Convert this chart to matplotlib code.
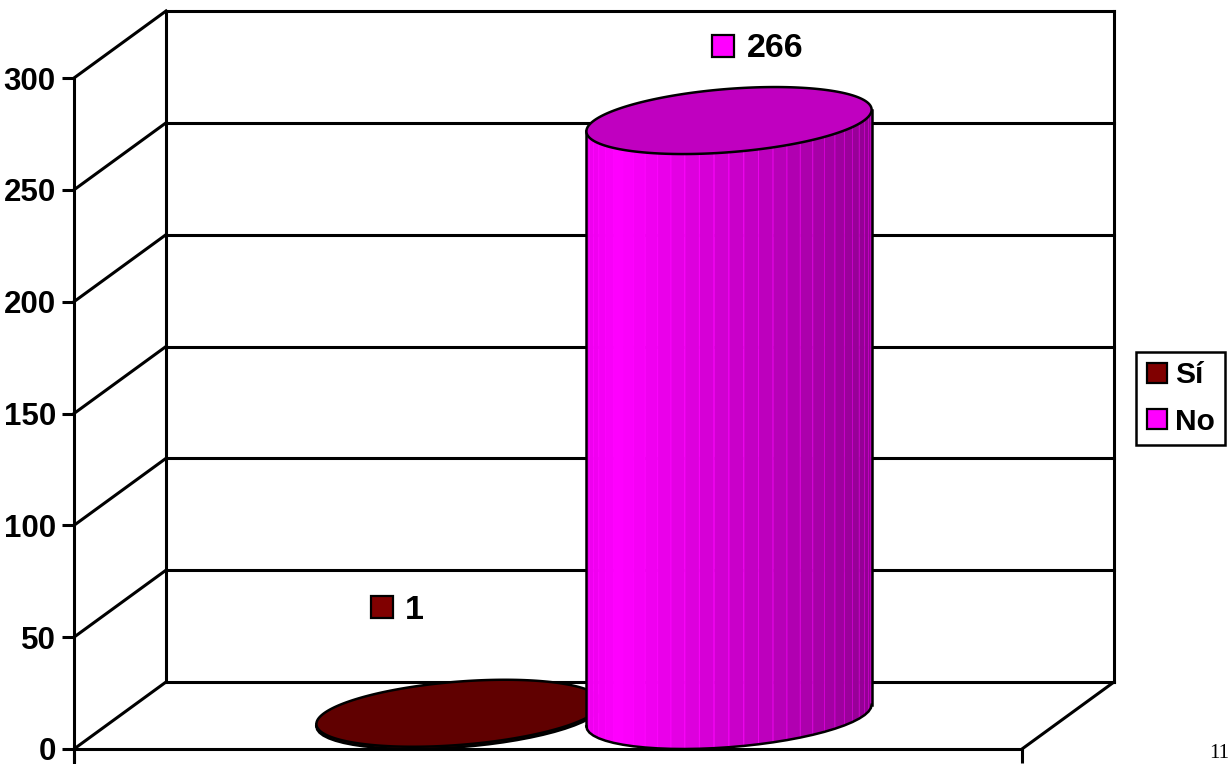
import numpy as np
import matplotlib
matplotlib.use("Agg")
import matplotlib.pyplot as plt
from matplotlib.patches import Polygon
from matplotlib.lines import Line2D
from matplotlib.transforms import ScaledTranslation

# ---- data ----
series = ["Sí", "No"]
values = [1, 266]
yticks = [0, 50, 100, 150, 200, 250, 300]
top_colors = ["#600000", "#C000C0"]
side_colors = [(0.5, 0.0, 0.0), (1.0, 0.0, 1.0)]
key_colors = ["#800000", "#FF00FF"]

# ---- layout (pixels) ----
W, H = 1231, 764
PX_X0, PX_Y0 = 74, 749          # front-left corner of the floor
PX_CAT = 948                    # width of the single category
PX_PER_VAL = 671 / 300          # vertical scale
DEPTH_PX = (92, 67)             # oblique depth offset

plt.rcParams["font.family"] = ["Liberation Sans", "DejaVu Sans"]
fig = plt.figure(figsize=(W / 100, H / 100), dpi=100)

ax_right_px = 1131
ax = fig.add_axes([PX_X0 / W, 0, (ax_right_px - PX_X0) / W, 1])
ax.set_xlim(0, (ax_right_px - PX_X0) / PX_CAT)
ax.set_ylim(-(H - PX_Y0) / PX_PER_VAL, PX_Y0 / PX_PER_VAL)
ax.patch.set_alpha(0)

DX = DEPTH_PX[0] / PX_CAT
DV = DEPTH_PX[1] / PX_PER_VAL
LW = 2.2
ymin = ax.get_ylim()[0]

# axes lines
for s in ("top", "right"):
    ax.spines[s].set_visible(False)
ax.spines["left"].set_linewidth(LW)
ax.spines["left"].set_bounds(ymin, yticks[-1])
ax.spines["bottom"].set_linewidth(LW)
ax.spines["bottom"].set_position(("data", 0))
ax.spines["bottom"].set_bounds(0, 1)
ax.set_xticks([0, 1])
ax.set_xticklabels([])
ax.tick_params(axis="x", direction="out", length=10, width=LW)
ax.set_yticks(yticks)
ax.set_yticklabels([str(t) for t in yticks], fontsize=22.5, fontweight="bold")
ax.tick_params(axis="y", direction="out", length=8.6, width=LW, pad=4.5)

# back wall, side wall and floor
kw = dict(color="black", lw=LW, solid_capstyle="projecting", zorder=1, clip_on=False)
ax.plot([DX, DX], [DV, yticks[-1] + DV], **kw)
ax.plot([1 + DX, 1 + DX], [DV, yticks[-1] + DV], **kw)
for t in yticks:
    ax.plot([DX, 1 + DX], [t + DV, t + DV], **kw)
    ax.plot([0, DX], [t, t + DV], **kw)
ax.plot([1, 1 + DX], [0, DV], **kw)

# ---- cylinders ----
BAR_W = 270 / PX_CAT
centers = [0.5 - BAR_W / 2, 0.5 + BAR_W / 2]
a = BAR_W / 2
th0 = np.arctan2(0.5 * DX, a)


def pt(xc, th, val):
    z = 0.5 + 0.5 * np.sin(th)
    return xc + a * np.cos(th) + z * DX, val + z * DV


def shade(t):
    # brightness across the visible side, t = 0 at the left edge, 1 at the right
    return np.interp(t, [0.0, 0.12, 0.5, 1.0], [0.92, 1.0, 0.80, 0.57])


for i, (xc, v) in enumerate(zip(centers, values)):
    zb = 3 + i * 2
    n = 30
    ths = np.linspace(th0 + np.pi, th0 + 2 * np.pi, n + 1)
    xl, _ = pt(xc, ths[0], 0)
    xr, _ = pt(xc, ths[-1], 0)
    base = np.array(side_colors[i])
    for k in range(n):
        t1, t2 = ths[k], ths[k + 1]
        xb1, yb1 = pt(xc, t1, 0)
        xb2, yb2 = pt(xc, t2, 0)
        xt1, yt1 = pt(xc, t1, v)
        xt2, yt2 = pt(xc, t2, v)
        frac = (0.5 * (xb1 + xb2) - xl) / (xr - xl)
        c = np.clip(base * shade(frac), 0, 1)
        ec = np.clip(c + 0.2 * (base > 0), 0, 1)
        ax.add_patch(Polygon([(xb1, yb1), (xb2, yb2), (xt2, yt2), (xt1, yt1)],
                             closed=True, facecolor=c, edgecolor=ec, lw=0.6,
                             zorder=zb, clip_on=False))
    # outline of the side
    bx, by = pt(xc, ths, 0)
    ax.plot(bx, by, color="black", lw=1.8, zorder=zb + 0.5, clip_on=False)
    for t in (ths[0], ths[-1]):
        x0, y0 = pt(xc, t, 0)
        x1, y1 = pt(xc, t, v)
        ax.plot([x0, x1], [y0, y1], color="black", lw=1.8, zorder=zb + 0.5, clip_on=False)
    # top cap
    tt = np.linspace(0, 2 * np.pi, 200)
    tx, ty = pt(xc, tt, v)
    ax.add_patch(Polygon(np.column_stack([tx, ty]), closed=True, facecolor=top_colors[i],
                         edgecolor="black", lw=1.8, zorder=zb + 1, clip_on=False))

# ---- value labels ----
label_offsets_px = [(-31.5, 139.3), (40.5, 108.5)]
for i, (xc, v) in enumerate(zip(centers, values)):
    ox, oy = label_offsets_px[i]
    tr_key = ax.transData + ScaledTranslation(ox / 100, oy / 100, fig.dpi_scale_trans)
    ax.plot([xc], [v], marker="s", markersize=16.5, markerfacecolor=key_colors[i],
            markeredgecolor="black", markeredgewidth=1.6, transform=tr_key,
            zorder=20, clip_on=False)
    tr_txt = ax.transData + ScaledTranslation((ox + 23) / 100, (oy - 11.5) / 100,
                                              fig.dpi_scale_trans)
    ax.text(xc, v, str(v), transform=tr_txt, ha="left", va="baseline",
            fontsize=24.5, fontweight="bold", zorder=20, clip_on=False)

# ---- legend ----
handles = [Line2D([], [], ls="none", marker="s", markersize=15, markerfacecolor=c,
                  markeredgecolor="black", markeredgewidth=1.6) for c in key_colors]
leg = fig.legend(handles, series, loc="center left",
                 bbox_to_anchor=(1136 / W, 1 - 398.5 / H), frameon=True,
                 fancybox=False, framealpha=1, edgecolor="black",
                 prop={"size": 21.5, "weight": "bold"}, handlelength=0.75,
                 handletextpad=0.25, borderpad=0.32, labelspacing=0.62,
                 borderaxespad=0)
leg.get_frame().set_linewidth(1.8)

# page number
fig.text(1229 / W, 1 - 758 / H, "11", ha="right", va="baseline",
         family="Liberation Serif", fontsize=15)

fig.savefig("out.png", dpi=100)
